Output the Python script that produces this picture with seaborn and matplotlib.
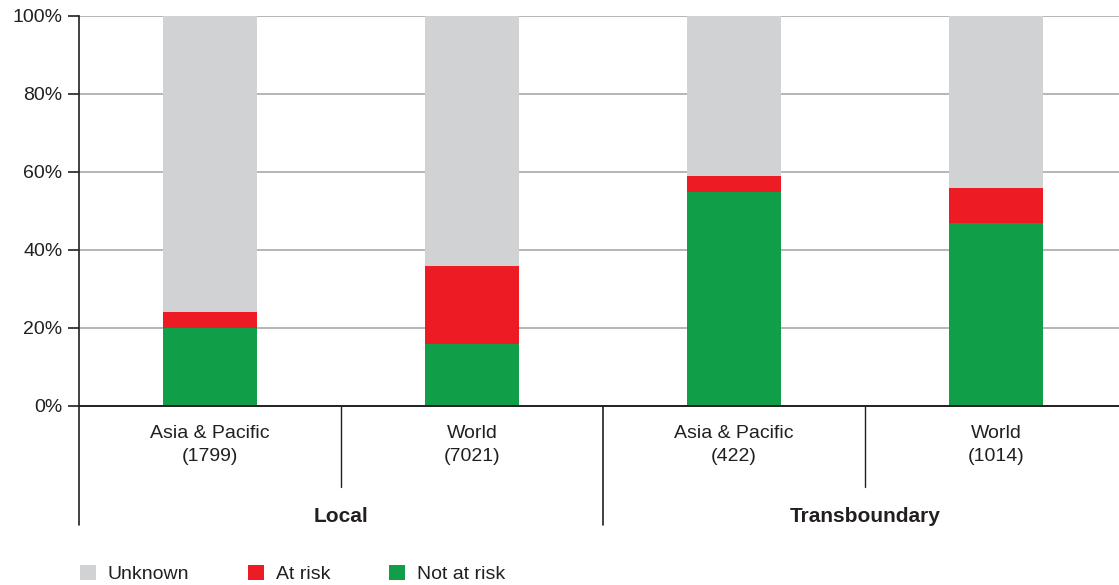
import numpy as np
import pandas as pd
import matplotlib
matplotlib.use("Agg")
import matplotlib.pyplot as plt
import seaborn as sns
from matplotlib.patches import Patch
from matplotlib.ticker import FuncFormatter

sns.set_style("white")
plt.rcParams["font.family"] = ["Liberation Sans", "DejaVu Sans"]

# data (percent of stocks)
categories = ["Asia & Pacific\n(1799)", "World\n(7021)", "Asia & Pacific\n(422)", "World\n(1014)"]
groups = ["Local", "Transboundary"]
not_at_risk = [20, 16, 55, 47]
at_risk = [4, 20, 4, 9]
unknown = [76, 64, 41, 44]

series = ["Unknown", "At risk", "Not at risk"]
colors = {"Unknown": "#d1d2d4", "At risk": "#ed1c24", "Not at risk": "#119e48"}

df = pd.DataFrame({"category": categories, "not_at_risk": not_at_risk,
                   "at_risk": at_risk, "unknown": unknown})
df["top_green"] = df["not_at_risk"]
df["top_red"] = df["not_at_risk"] + df["at_risk"]
df["top_gray"] = df["top_red"] + df["unknown"]

fig = plt.figure(figsize=(11.19, 5.85), dpi=100)
# axes runs a little past the right edge of the image, as in the original
ax = fig.add_axes([79 / 1119, 1 - 406 / 585, 1048 / 1119, 390 / 585])

txt = "#231f20"
fs = 14

ax.set_axisbelow(True)
ax.yaxis.grid(True, color="#b5b5b5", linewidth=1.4)

for col, name in [("top_gray", "Unknown"), ("top_red", "At risk"), ("top_green", "Not at risk")]:
    sns.barplot(data=df, x="category", y=col, order=categories, color=colors[name],
                width=0.36, saturation=1, ax=ax, linewidth=0)

ax.set_xlim(-0.5, 3.5)
ax.set_ylim(0, 100)
ax.set_yticks([0, 20, 40, 60, 80, 100])
ax.yaxis.set_major_formatter(FuncFormatter(lambda v, p: f"{v:.0f}%"))
ax.set_xlabel("")
ax.set_ylabel("")

for s in ["top", "right"]:
    ax.spines[s].set_visible(False)
ax.spines["left"].set_color("#231f20")
ax.spines["left"].set_linewidth(1.2)
ax.spines["bottom"].set_color("#231f20")
ax.spines["bottom"].set_linewidth(1.4)

ax.tick_params(axis="y", length=8, width=1.2, color="#231f20", labelsize=fs,
               labelcolor=txt, pad=4, left=True)
ax.tick_params(axis="x", length=0, labelsize=fs, labelcolor=txt, pad=14)
for lab in ax.get_xticklabels():
    lab.set_linespacing(1.45)

# group separators below the axis
trans = ax.get_xaxis_transform()
short_y = -(487 - 406) / 390
long_y = -(525 - 406) / 390
for xpos in [0.5, 2.5]:
    ax.plot([xpos, xpos], [0, short_y], transform=trans, color="#231f20", lw=1, clip_on=False)
for xpos in [-0.5, 1.5]:
    ax.plot([xpos, xpos], [0, long_y], transform=trans, color="#231f20", lw=1.2, clip_on=False)

for i, g in enumerate(groups):
    ax.text(0.5 + 2 * i, -(517 - 406) / 390, g, transform=trans, ha="center", va="center",
            fontsize=15, fontweight="bold", color=txt)

handles = [Patch(facecolor=colors[s], edgecolor="none", label=s) for s in series]
fig.legend(handles=handles, loc="center left", bbox_to_anchor=(72 / 1119, 1 - 574 / 585),
           ncol=3, frameon=False, fontsize=fs, handlelength=0.85, handleheight=0.85,
           handletextpad=0.6, columnspacing=3.0, labelcolor=txt, borderaxespad=0)

fig.savefig("out.png", dpi=100)
